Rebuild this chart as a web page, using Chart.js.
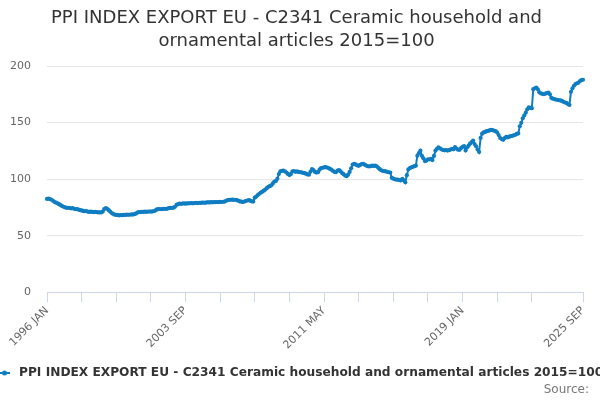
<!DOCTYPE html>
<html>
<head>
<meta charset="utf-8">
<script src="https://cdn.jsdelivr.net/npm/chart.js@4.4.1/dist/chart.umd.min.js"></script>
<style>
  html, body { margin: 0; padding: 0; background: #fff; }
  #wrap { width: 600px; height: 400px; }
</style>
</head>
<body>
<div id="wrap"><canvas id="ppiChart" width="600" height="400"></canvas></div>
<script>
// === Data ===
const chartTitle = ['PPI INDEX EXPORT EU - C2341 Ceramic household and', 'ornamental articles 2015=100'];
const seriesName = 'PPI INDEX EXPORT EU - C2341 Ceramic household and ornamental articles 2015=100';
const monthNames = ['JAN', 'FEB', 'MAR', 'APR', 'MAY', 'JUN', 'JUL', 'AUG', 'SEP', 'OCT', 'NOV', 'DEC'];
const startYear = 1996;
const tickLabels = ['1996 JAN', '2003 SEP', '2011 MAY', '2019 JAN', '2025 SEP'];
const yTicks = [0, 50, 100, 150, 200];

// monthly values, one row per year (1996 .. 2025 SEP)
const ppiValues = [
  82.5, 82.7, 82.4, 81.8, 80.9, 79.8, 79.2, 78.6, 77.9, 77.0, 76.2, 75.6,
  75.0, 74.6, 74.7, 74.5, 74.2, 74.3, 73.8, 73.4, 73.5, 73.0, 72.6, 72.3,
  71.9, 71.6, 71.8, 71.3, 71.0, 71.2, 71.0, 70.8, 71.1, 70.9, 70.6, 70.7,
  70.6, 71.2, 73.5, 74.3, 73.8, 72.6, 71.2, 70.0, 69.2, 68.6, 68.4, 68.1,
  68.0, 68.2, 68.1, 68.4, 68.3, 68.6, 68.5, 68.5, 68.8, 68.7, 69.0, 69.5,
  70.4, 70.8, 70.9, 71.1, 71.0, 71.2, 71.1, 71.3, 71.4, 71.2, 71.5, 71.6,
  72.3, 73.2, 73.5, 73.6, 73.4, 73.7, 73.8, 73.6, 74.0, 74.3, 74.6, 74.5,
  74.8, 75.6, 77.2, 78.0, 78.3, 78.2, 78.4, 78.5, 78.3, 78.6, 78.5, 78.7,
  78.8, 78.6, 78.9, 79.0, 78.8, 79.1, 79.0, 79.2, 79.3, 79.1, 79.4, 79.5,
  79.4, 79.6, 79.5, 79.7, 79.6, 79.8, 79.7, 79.9, 79.8, 80.0, 80.2, 80.9,
  81.5, 81.8, 81.7, 81.9, 81.6, 81.8, 81.5, 81.0, 80.4, 80.1, 79.9, 80.2,
  80.6, 81.1, 81.4, 81.0, 80.4, 80.2, 83.6, 84.6, 85.9, 87.1, 88.0, 88.9,
  89.8, 90.8, 92.0, 93.3, 93.8, 94.5, 96.2, 97.9, 98.3, 100.4, 104.5, 106.9,
  107.3, 107.6, 107.0, 105.9, 104.6, 103.6, 104.5, 106.8, 107.2, 106.5, 106.8, 106.4,
  106.2, 106.0, 105.6, 105.3, 104.8, 104.2, 104.0, 106.6, 108.9, 108.0, 106.4, 105.8,
  106.2, 108.4, 109.8, 110.1, 110.4, 110.6, 110.3, 109.8, 109.0, 108.3, 107.2, 106.4,
  106.3, 107.6, 108.0, 106.8, 105.4, 104.4, 103.2, 102.6, 104.0, 106.4, 109.6, 112.9,
  113.6, 113.0, 112.2, 111.8, 112.6, 113.4, 113.6, 112.8, 112.0, 111.5, 111.2, 111.6,
  111.9, 111.7, 111.9, 111.4, 110.0, 108.8, 107.8, 107.4, 107.1, 106.8, 106.5, 106.1,
  105.8, 101.2, 100.4, 99.9, 99.5, 99.6, 99.2, 98.8, 100.2, 99.0, 97.2, 103.5,
  108.6, 109.8, 110.5, 110.9, 111.5, 111.9, 120.8, 123.0, 125.2, 120.6, 118.4, 116.0,
  116.4, 117.6, 117.4, 118.0, 116.9, 120.5, 125.2, 126.8, 128.2, 127.3, 126.4, 125.8,
  125.5, 125.8, 125.3, 125.6, 126.2, 126.8, 126.4, 128.3, 127.0, 126.1, 125.9, 127.5,
  128.6, 129.2, 125.4, 128.0, 129.6, 131.4, 132.8, 134.1, 131.0, 129.0, 126.2, 124.0,
  136.5, 140.2, 141.3, 141.8, 142.4, 142.7, 143.1, 143.6, 143.3, 142.8, 142.4, 141.2,
  139.0, 136.4, 135.4, 134.8, 136.2, 137.4, 137.0, 137.6, 138.0, 138.3, 138.8, 139.2,
  140.0, 140.4, 146.8, 149.8, 153.8, 156.4, 158.8, 161.8, 163.4, 163.0, 162.8, 179.6,
  180.4, 181.0, 179.4, 176.8, 175.9, 175.5, 175.2, 175.6, 176.2, 176.6, 175.0, 171.8,
  171.2, 170.8, 170.4, 170.2, 169.8, 169.6, 169.2, 168.4, 167.8, 167.4, 166.4, 165.6,
  177.2, 180.4, 182.6, 184.1, 184.8, 185.4, 186.7, 187.6, 187.9
];

const monthLabels = ppiValues.map((v, i) =>
  (startYear + Math.floor(i / 12)) + ' ' + monthNames[i % 12]);

// === Style ===
const lineColor = '#0f7dc2';
const fontFamily = "'DejaVu Sans', Verdana, sans-serif";
const tickStep = 23; // months between x tick marks
const lastIndex = monthLabels.length - 1;

// legend + source are drawn by hand, at the bottom of the canvas
const bottomLegend = {
  id: 'bottomLegend',
  afterDraw(chart) {
    const ctx = chart.ctx;
    ctx.save();
    ctx.strokeStyle = lineColor;
    ctx.fillStyle = lineColor;
    ctx.lineWidth = 2;
    ctx.beginPath();
    ctx.moveTo(0, 373);
    ctx.lineTo(10, 373);
    ctx.stroke();
    ctx.beginPath();
    ctx.arc(4.5, 373, 2.5, 0, Math.PI * 2);
    ctx.fill();

    ctx.fillStyle = '#333';
    ctx.font = 'bold 12.2px ' + fontFamily;
    ctx.textBaseline = 'middle';
    ctx.textAlign = 'left';
    ctx.fillText(seriesName, 19, 373);

    ctx.fillStyle = '#777';
    ctx.font = '12px ' + fontFamily;
    ctx.textAlign = 'right';
    ctx.fillText('Source:', 589, 390);
    ctx.restore();
  }
};

new Chart(document.getElementById('ppiChart'), {
  type: 'line',
  data: {
    labels: monthLabels,
    datasets: [{
      label: seriesName,
      data: ppiValues,
      borderColor: lineColor,
      backgroundColor: lineColor,
      borderWidth: 2,
      pointRadius: 2.1,
      pointBorderWidth: 0,
      pointBackgroundColor: lineColor,
      tension: 0
    }]
  },
  options: {
    responsive: false,
    devicePixelRatio: 1,
    animation: false,
    layout: { padding: { left: 10, right: 17, top: 0, bottom: 46 } },
    plugins: {
      legend: { display: false },
      tooltip: { enabled: false },
      title: {
        display: true,
        text: chartTitle,
        color: '#333',
        font: { family: fontFamily, size: 18, weight: 'normal', lineHeight: 1.28 },
        padding: { top: 7, bottom: 13 }
      }
    },
    scales: {
      x: {
        type: 'category',
        offset: false,
        // rotated labels may hang outside the plot, like the original
        afterFit: axis => { axis.paddingLeft = 0; axis.paddingRight = 0; },
        grid: {
          drawOnChartArea: false,
          drawTicks: true,
          tickLength: 10,
          tickColor: c => ((c.index % tickStep === 0 && c.index + tickStep <= lastIndex) || c.index === lastIndex) ? '#ccd6eb' : 'rgba(0,0,0,0)'
        },
        border: { color: '#ccd6eb', width: 1 },
        ticks: {
          autoSkip: false,
          minRotation: 45,
          maxRotation: 45,
          padding: 2,
          color: '#666',
          font: { family: fontFamily, size: 11 },
          callback: function (value) {
            const lab = this.getLabelForValue(value);
            return tickLabels.includes(lab) ? lab : '';
          }
        }
      },
      y: {
        min: yTicks[0],
        max: yTicks[yTicks.length - 1],
        afterBuildTicks: axis => { axis.ticks = yTicks.map(v => ({ value: v })); },
        afterFit: axis => { axis.width = 37; },
        grid: { color: '#e6e6e6', drawTicks: false },
        border: { display: false },
        ticks: {
          padding: 16,
          color: '#666',
          font: { family: fontFamily, size: 11 }
        }
      }
    }
  },
  plugins: [bottomLegend]
});
</script>
</body>
</html>
